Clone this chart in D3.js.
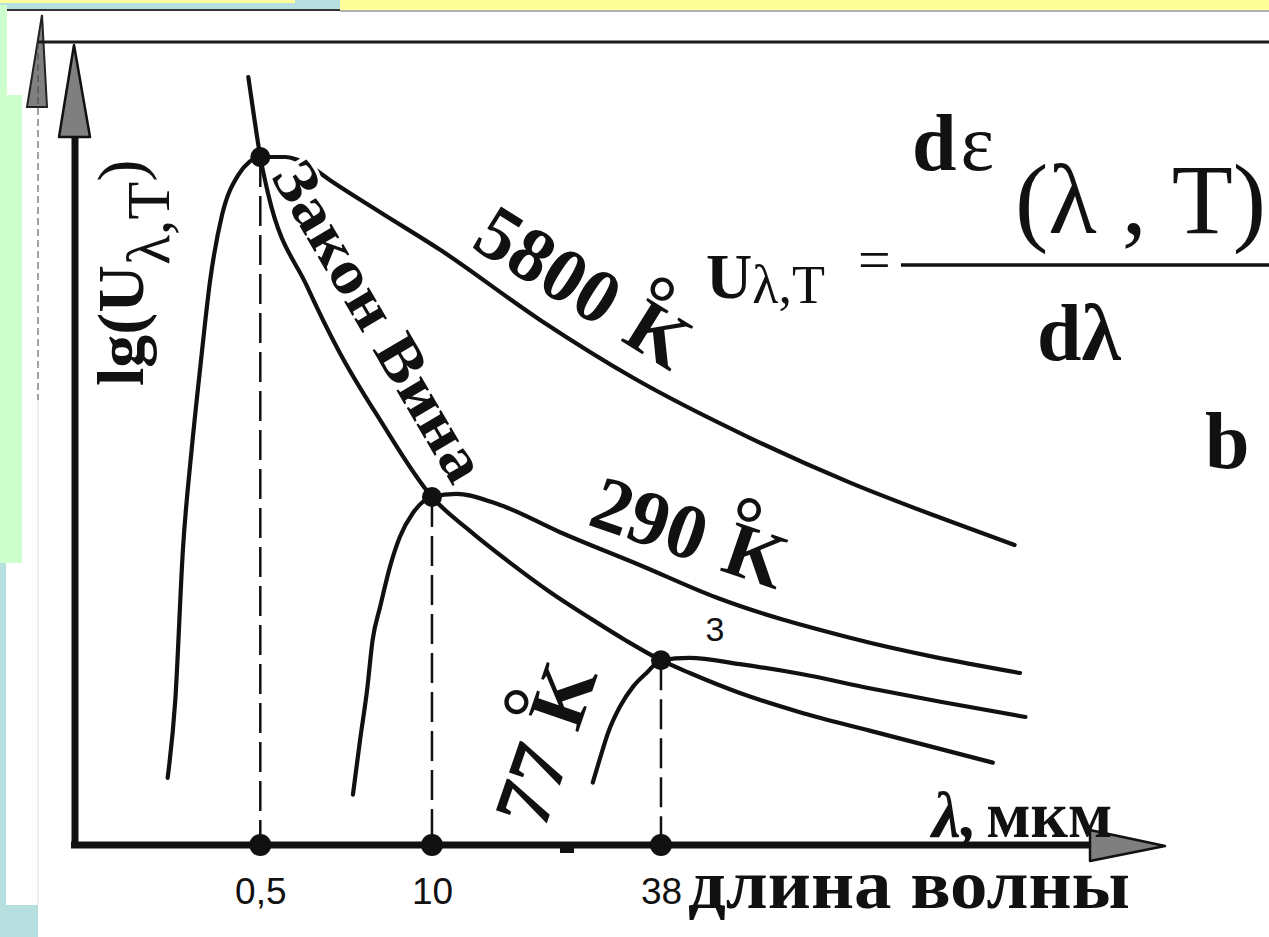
<!DOCTYPE html>
<html><head><meta charset="utf-8">
<script src="https://cdn.jsdelivr.net/npm/d3@7"></script>
<style>
html,body{margin:0;padding:0;background:#fff;overflow:hidden}
svg{display:block}
text{fill:#111}
</style></head><body>
<svg id="chart" width="1269" height="937"></svg>
<script>
// Black-body spectral energy density (log scale) for three temperatures,
// with the Wien displacement locus through the maxima. Relative units 0–100.

const seriesNames = ["5800", "290", "77"];

const curve5800 = [[8.5,8.4],[9.2,18.1],[9.9,36.9],[10.7,49.4],[11.5,59.8],[12.4,70.6],[13.5,78.8],[15.0,83.8],[16.0,85.4],[17.0,86.0],[19.3,86.0],[21.6,84.8],[23.4,83.1],[28.0,79.1],[33.5,74.4],[42.7,65.6],[51.2,58.4],[61.9,50.9],[71.1,45.3],[79.4,40.9],[86.2,37.5]];

const curve290 = [[25.5,6.3],[26.15,13.1],[26.8,19.4],[27.3,25.6],[28.0,29.8],[28.9,34.8],[29.8,38.5],[31.0,41.5],[32.75,43.5],[35.0,43.9],[39.0,42.5],[44.5,39.1],[51.8,35.0],[58.9,30.9],[71.1,25.9],[86.7,21.5]];

const curve77 = [[47.5,7.8],[48.2,11.0],[48.9,14.0],[50.0,17.3],[51.2,19.8],[52.5,21.6],[53.76,23.1],[56.4,23.4],[61.0,22.6],[66.5,21.4],[72.9,19.6],[79.4,17.9],[87.2,16.0]];

const wienLaw = [[15.9,96.0],[16.4,91.3],[17.0,86.0],[17.7,81.5],[21.3,69.8],[24.3,61.5],[28.0,53.1],[32.75,43.5],[36.2,39.3],[39.9,35.3],[43.6,31.6],[47.2,28.4],[50.5,25.6],[53.76,23.1],[56.4,21.5],[61.0,19.0],[66.5,16.6],[72.9,14.3],[84.2,10.3]];

const peaks = [[17.0,86.0],[32.75,43.5],[53.76,23.1]];
const tickValues = [17.0, 32.75, 53.76];
const tickLabels = ["0,5", "10", "38"];

const svg = d3.select("#chart");
const W = 1269, H = 937;

// scales: relative wavelength → px, relative lg(U) → px
const x = d3.scaleLinear().domain([0, 100]).range([75, 1165]);
const y = d3.scaleLinear().domain([0, 100]).range([845, 45]);

// ---- slide backdrop ----
svg.append("rect").attr("width", W).attr("height", H).attr("fill", "#fff");
const bg = svg.append("g");
bg.append("rect").attr("x",0).attr("y",0).attr("width",340).attr("height",11).attr("fill","#b8dfe0");
bg.append("rect").attr("x",0).attr("y",0).attr("width",295).attr("height",3).attr("fill","#ffff99");
bg.append("rect").attr("x",340).attr("y",0).attr("width",W-340).attr("height",10).attr("fill","#ffff99");
bg.append("rect").attr("x",7).attr("y",9).attr("width",333).attr("height",2).attr("fill","#333");
bg.append("rect").attr("x",340).attr("y",10).attr("width",W-340).attr("height",2).attr("fill","#b0b0b0");
bg.append("rect").attr("x",0).attr("y",5).attr("width",7).attr("height",90).attr("fill","#ccffcc");
bg.append("rect").attr("x",0).attr("y",95).attr("width",22).attr("height",468).attr("fill","#ccffcc");
bg.append("rect").attr("x",0).attr("y",563).attr("width",6).attr("height",H-563).attr("fill","#b8dfe0");
bg.append("rect").attr("x",0).attr("y",905).attr("width",38).attr("height",H-905).attr("fill","#b8dfe0");
// underlying frame edge and a second axis arrow peeking out
bg.append("polygon").attr("points","42,15 27,107 47,107").attr("fill","#808080").attr("stroke","#222").attr("stroke-width",2);
bg.append("line").attr("x1",38).attr("x2",38).attr("y1",42).attr("y2",400).attr("stroke","#444").attr("stroke-width",1).attr("stroke-dasharray","7,4");
bg.append("line").attr("x1",38).attr("x2",38).attr("y1",400).attr("y2",905).attr("stroke","#ddd").attr("stroke-width",1);
bg.append("line").attr("x1",38).attr("x2",W).attr("y1",42).attr("y2",42).attr("stroke","#1a1a1a").attr("stroke-width",3);

// ---- axes ----
const axes = svg.append("g");
axes.append("line").attr("x1", x(0)).attr("x2", x(0)).attr("y1", 137).attr("y2", y(0)+3)
  .attr("stroke","#111").attr("stroke-width",7);
axes.append("line").attr("x1", x(0)-4).attr("x2", 1092).attr("y1", y(0)).attr("y2", y(0))
  .attr("stroke","#111").attr("stroke-width",7);
axes.append("polygon").attr("points", `${x(0)-1},${y(100)} ${x(0)-16},137 ${x(0)+15},137`)
  .attr("fill","#7f7f7f").attr("stroke","#111").attr("stroke-width",2.5).attr("stroke-linejoin","round");
axes.append("polygon").attr("points", `1090,${y(0)-15} ${x(100)},${y(0)+1} 1090,${y(0)+16}`)
  .attr("fill","#7f7f7f").attr("stroke","#111").attr("stroke-width",2.5).attr("stroke-linejoin","round");
axes.append("rect").attr("x",560).attr("y",y(0)+2).attr("width",14).attr("height",6).attr("fill","#111");

const xAxis = d3.axisBottom(x).tickValues(tickValues).tickFormat((d,i)=>tickLabels[i]).tickSize(0).tickPadding(33);
const gx = svg.append("g").attr("transform", `translate(0,${y(0)})`).call(xAxis);
gx.select(".domain").remove();
gx.selectAll("text").attr("font-family","'Liberation Sans', Arial, sans-serif").attr("font-size",37).attr("fill","#111");

// ---- dashed drop lines from the maxima ----
svg.append("g").selectAll("line").data(peaks).join("line")
  .attr("x1", d=>x(d[0])).attr("x2", d=>x(d[0]))
  .attr("y1", d=>y(d[1])).attr("y2", y(0))
  .attr("stroke","#111").attr("stroke-width",2.5).attr("stroke-dasharray","30,9");

const serif = "'Liberation Serif', 'Times New Roman', serif";

// ---- curves ----
const line = d3.line().x(d=>x(d[0])).y(d=>y(d[1])).curve(d3.curveMonotoneX);
const curveStyle = p => p.attr("fill","none").attr("stroke","#111").attr("stroke-width",4.2)
  .attr("stroke-linecap","round").attr("stroke-linejoin","round");

svg.append("path").datum(curve5800).attr("d", line).call(curveStyle);

// the Wien label sits over the 5800 K curve and breaks it
svg.append("text")
  .attr("transform","translate(270,176) rotate(59.5)")
  .attr("font-family", serif).attr("font-weight","bold")
  .attr("font-size",62).attr("textLength",361).attr("lengthAdjust","spacingAndGlyphs")
  .attr("stroke","#fff").attr("stroke-width",7).attr("paint-order","stroke").attr("stroke-linejoin","round")
  .text("Закон Вина");

svg.append("g").selectAll("path").data([curve290, curve77, wienLaw]).join("path")
  .attr("d", line).call(curveStyle);

// ---- markers ----
svg.append("g").selectAll("circle").data(peaks).join("circle")
  .attr("cx", d=>x(d[0])).attr("cy", d=>y(d[1])).attr("r", 10).attr("fill","#111");
svg.append("g").selectAll("circle").data(tickValues).join("circle")
  .attr("cx", d=>x(d)).attr("cy", y(0)).attr("r", 11).attr("fill","#111");

// ---- labels ----
const labels = svg.append("g").attr("font-family", serif).attr("font-weight","bold");

function tempLabel(cx, cy, angle, num, size) {
  const t = labels.append("text")
    .attr("transform", `translate(${cx},${cy}) rotate(${angle})`)
    .attr("text-anchor","middle").attr("font-size", size);
  t.append("tspan").text(num);
  t.append("tspan").attr("dx","0.22em").attr("dy","-0.34em").text("°");
  t.append("tspan").attr("dx","-0.32em").attr("dy","0.34em").text("K");
}
tempLabel(570, 309, 32, seriesNames[0], 77);
tempLabel(681, 557, 19, seriesNames[1], 78);
tempLabel(571, 753, -71, seriesNames[2], 80);

labels.append("text").attr("x",715).attr("y",641).attr("text-anchor","middle")
  .attr("font-family","'Liberation Sans', Arial, sans-serif").attr("font-weight","normal")
  .attr("font-size",34).text("3");

// axis titles
const xt = labels.append("text").attr("x",932).attr("y",837).attr("font-size",65);
xt.append("tspan").attr("font-style","italic").text("λ,");
xt.append("tspan").attr("dx","0.14em").text("мкм");

labels.append("text").attr("x",688).attr("y",908).attr("font-size",70)
  .attr("textLength",442).attr("lengthAdjust","spacingAndGlyphs").text("длина волны");

const yt = labels.append("text").attr("transform","translate(143,386) rotate(-90)").attr("font-size",66);
yt.append("tspan").text("lg(U");
yt.append("tspan").attr("font-weight","normal").attr("font-size",62).attr("dy",26).text("λ,T");
yt.append("tspan").attr("font-weight","normal").attr("dy",-26).text(")");

// definition of the spectral density
const f = labels.append("g");
const u = f.append("text").attr("x",706).attr("y",298).attr("font-size",64);
u.append("tspan").text("U");
u.append("tspan").attr("font-weight","normal").attr("font-size",54).attr("dy",5).text("λ,T");
f.append("text").attr("x",858).attr("y",279).attr("font-size",58).attr("font-weight","normal").text("=");
f.append("line").attr("x1",901).attr("x2",W).attr("y1",265).attr("y2",265).attr("stroke","#111").attr("stroke-width",3.5);
const num = f.append("text").attr("x",912).attr("y",170).attr("font-size",80);
num.append("tspan").text("d");
num.append("tspan").attr("font-weight","normal").attr("font-size",80).attr("dx","0.05em").text("ε");
f.append("text").attr("x",1015).attr("y",233).attr("font-size",100).attr("font-weight","normal").text("(λ , T)");
f.append("text").attr("x",1037).attr("y",360).attr("font-size",80).text("dλ");
f.append("text").attr("x",1205).attr("y",468).attr("font-size",80).text("b");
</script>
</body></html>
